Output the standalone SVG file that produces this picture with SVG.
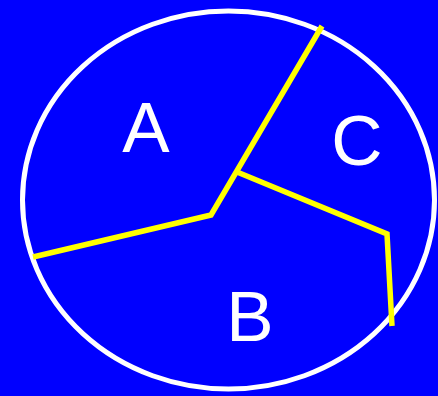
<svg xmlns="http://www.w3.org/2000/svg" width="438" height="396" viewBox="0 0 438 396">
<style>
.lbl{font-family:"Liberation Sans",Arial,sans-serif;font-size:71px;fill:#fff;text-anchor:middle}
.bd{fill:none;stroke:#ff0;stroke-width:5.5;stroke-linejoin:miter}
</style>
<rect width="438" height="396" fill="#0000ff"/>
<g id="circle"><ellipse cx="228.5" cy="200" rx="206" ry="189" fill="none" stroke="#fff" stroke-width="5"/></g>
<g id="connectors">
<polyline class="bd" points="33,257 211,215 322,26"/>
<polyline class="bd" points="237,172 387,234 392,326"/>
</g>
<g id="A"><text class="lbl" x="146" y="152">A</text></g>
<g id="B"><text class="lbl" x="250" y="341">B</text></g>
<g id="C"><text class="lbl" x="357" y="165">C</text></g>
</svg>
